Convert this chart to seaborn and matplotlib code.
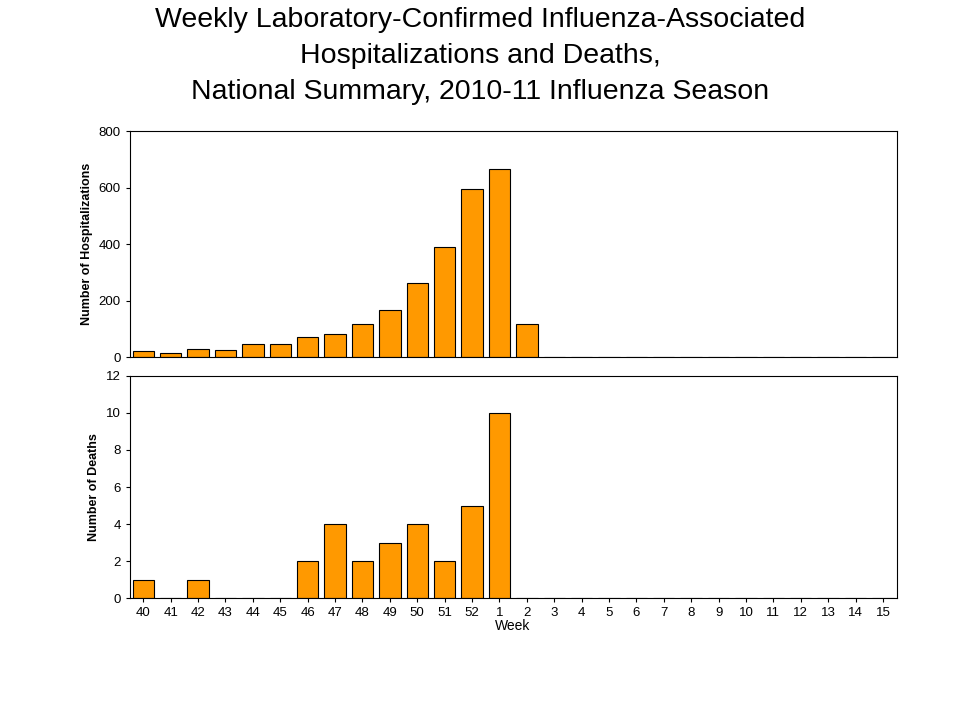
import matplotlib
matplotlib.use("Agg")
import matplotlib.pyplot as plt
import seaborn as sns
import pandas as pd

weeks = ["40","41","42","43","44","45","46","47","48","49","50","51","52","1","2",
         "3","4","5","6","7","8","9","10","11","12","13","14","15"]
hosp = [21,14,28,25,46,46,71,81,117,166,262,389,595,665,117] + [0]*13
deaths = [1,0,1,0,0,0,2,4,2,3,4,2,5,10,0] + [0]*13

plt.rcParams["font.family"] = "Liberation Sans"
fig = plt.figure(figsize=(9.6, 7.2), dpi=100)
ax1 = fig.add_axes([0.135, 0.504, 0.799, 0.314])
ax2 = fig.add_axes([0.135, 0.169, 0.799, 0.309])

df = pd.DataFrame({"week": weeks, "hosp": hosp, "deaths": deaths})
for ax, col, ymax, step, lab in [(ax1, "hosp", 800, 200, "Number of Hospitalizations"),
                                 (ax2, "deaths", 12, 2, "Number of Deaths")]:
    sns.barplot(data=df, x="week", y=col, order=weeks, color="#FF9900",
                saturation=1, edgecolor="black", linewidth=0.8, width=0.78, ax=ax)
    ax.set_ylim(0, ymax)
    ax.set_yticks(range(0, ymax + 1, step))
    ax.set_xlim(-0.5, len(weeks) - 0.5)
    ax.set_ylabel(lab, fontsize=9, fontweight="bold")
    ax.tick_params(labelsize=9.5, length=3)
    for s in ax.spines.values():
        s.set_linewidth(0.8)

ax1.set_xticks(range(len(weeks)))
ax1.set_xticklabels([])
ax1.set_xlabel("")
ax1.tick_params(axis="x", length=0)
ax2.set_xlabel("Week", fontsize=10, labelpad=0)

fig.text(0.5, 0.99, "Weekly Laboratory-Confirmed Influenza-Associated\nHospitalizations and Deaths,\nNational Summary, 2010-11 Influenza Season",
         ha="center", va="top", fontsize=20.5, linespacing=1.5)
fig.savefig("out.png", dpi=100, facecolor="white")
